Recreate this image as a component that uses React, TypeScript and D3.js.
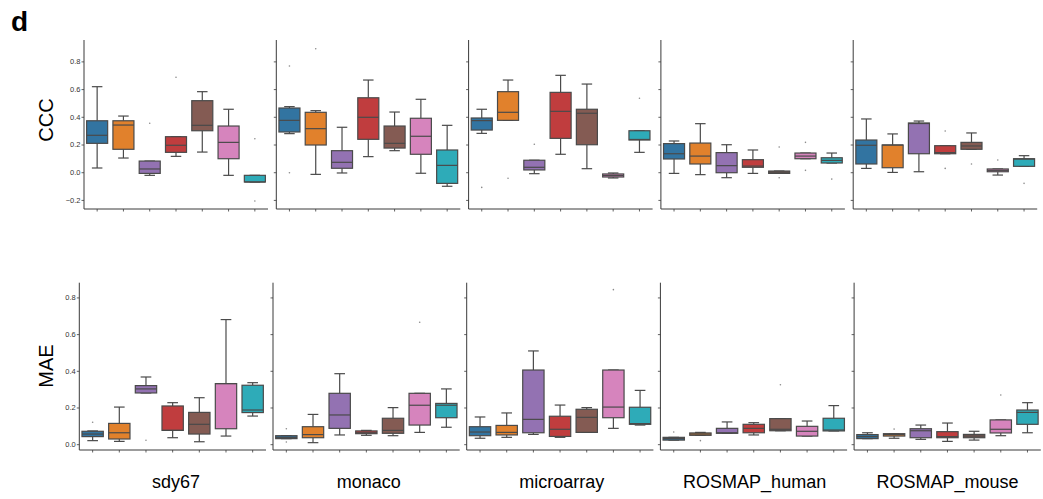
import React from "react";
import * as d3 from "d3";

// Methods compared in every panel (colour order of the boxes)
const methods = ["M1", "M2", "M3", "M4", "M5", "M6", "M7"];
const methodColors = ["#3274A1", "#E1812C", "#9372B2", "#C03D3E", "#845B53", "#D684BD", "#2EABB8"];
const datasets = ["sdy67", "monaco", "microarray", "ROSMAP_human", "ROSMAP_mouse"];

const cccTicks = [-0.2, 0, 0.2, 0.4, 0.6, 0.8];
const maeTicks = [0, 0.2, 0.4, 0.6, 0.8];

// Box statistics per method: [lower whisker, q1, median, q3, upper whisker]
const cccSdy67 = [
  [0.034, 0.212, 0.27, 0.375, 0.621],
  [0.106, 0.169, 0.344, 0.375, 0.409],
  [-0.019, -0.005, 0.027, 0.084, 0.084],
  [0.118, 0.147, 0.198, 0.26, 0.26],
  [0.149, 0.303, 0.342, 0.52, 0.585],
  [-0.019, 0.101, 0.219, 0.337, 0.458],
  [-0.067, -0.067, -0.067, -0.019, -0.019],
];
const cccMonaco = [
  [0.282, 0.294, 0.378, 0.467, 0.477],
  [-0.012, 0.2, 0.318, 0.436, 0.448],
  [-0.002, 0.032, 0.075, 0.159, 0.328],
  [0.116, 0.241, 0.4, 0.541, 0.669],
  [0.159, 0.178, 0.212, 0.337, 0.438],
  [-0.004, 0.133, 0.263, 0.393, 0.53],
  [-0.098, -0.077, 0.053, 0.164, 0.342],
];
const cccMicroarray = [
  [0.284, 0.308, 0.376, 0.395, 0.458],
  [0.378, 0.378, 0.436, 0.585, 0.669],
  [-0.007, 0.02, 0.039, 0.09, 0.09],
  [0.133, 0.248, 0.443, 0.58, 0.703],
  [0.029, 0.202, 0.429, 0.458, 0.64],
  [-0.038, -0.031, -0.02, -0.009, -0.002],
  [0.147, 0.236, 0.24, 0.303, 0.303],
];
const cccRosmapHuman = [
  [-0.005, 0.099, 0.137, 0.21, 0.229],
  [-0.014, 0.063, 0.12, 0.214, 0.354],
  [-0.036, 0.0, 0.051, 0.145, 0.202],
  [-0.005, 0.039, 0.048, 0.094, 0.164],
  [-0.005, -0.005, 0.004, 0.012, 0.012],
  [0.101, 0.101, 0.12, 0.142, 0.142],
  [0.07, 0.07, 0.089, 0.108, 0.142],
];
const cccRosmapMouse = [
  [0.031, 0.063, 0.198, 0.236, 0.388],
  [0.002, 0.036, 0.2, 0.2, 0.28],
  [0.007, 0.137, 0.355, 0.359, 0.373],
  [0.137, 0.137, 0.145, 0.195, 0.195],
  [0.169, 0.169, 0.193, 0.219, 0.287],
  [-0.017, 0.007, 0.017, 0.027, 0.027],
  [0.046, 0.046, 0.098, 0.101, 0.123],
];

// Outlying points per method
const cccOutliers = [
  [[], [], [0.357], [0.689], [], [], [0.245, -0.204]],
  [[0.77, 0.0], [0.895], [], [], [], [], []],
  [[-0.106], [-0.04], [0.205], [], [], [], [0.537]],
  [[], [], [], [], [0.186, -0.036], [0.219, 0.017], [-0.046]],
  [[], [], [], [0.301, 0.031], [0.063], [0.092], [-0.077]],
];

const maeSdy67 = [
  [0.022, 0.044, 0.058, 0.073, 0.075],
  [0.018, 0.031, 0.065, 0.116, 0.205],
  [0.282, 0.282, 0.304, 0.322, 0.369],
  [0.038, 0.078, 0.078, 0.211, 0.229],
  [0.016, 0.058, 0.111, 0.176, 0.256],
  [0.047, 0.087, 0.333, 0.333, 0.682],
  [0.156, 0.175, 0.189, 0.324, 0.338],
];
const maeMonaco = [
  [0.033, 0.033, 0.04, 0.049, 0.049],
  [0.011, 0.038, 0.055, 0.098, 0.165],
  [0.053, 0.089, 0.162, 0.28, 0.387],
  [0.051, 0.06, 0.065, 0.075, 0.078],
  [0.049, 0.062, 0.078, 0.144, 0.202],
  [0.067, 0.107, 0.215, 0.28, 0.28],
  [0.095, 0.147, 0.215, 0.225, 0.304],
];
const maeMicroarray = [
  [0.035, 0.049, 0.069, 0.098, 0.151],
  [0.04, 0.053, 0.067, 0.105, 0.173],
  [0.056, 0.065, 0.138, 0.407, 0.511],
  [0.04, 0.045, 0.084, 0.155, 0.216],
  [0.067, 0.067, 0.149, 0.193, 0.202],
  [0.089, 0.147, 0.205, 0.407, 0.407],
  [0.107, 0.111, 0.115, 0.204, 0.296],
];
const maeRosmapHuman = [
  [0.025, 0.025, 0.033, 0.04, 0.04],
  [0.051, 0.051, 0.058, 0.064, 0.067],
  [0.062, 0.062, 0.065, 0.089, 0.124],
  [0.053, 0.065, 0.089, 0.111, 0.12],
  [0.076, 0.076, 0.084, 0.142, 0.142],
  [0.047, 0.047, 0.073, 0.1, 0.129],
  [0.075, 0.075, 0.08, 0.144, 0.213],
];
const maeRosmapMouse = [
  [0.033, 0.033, 0.044, 0.055, 0.065],
  [0.035, 0.047, 0.055, 0.06, 0.06],
  [0.029, 0.038, 0.076, 0.087, 0.107],
  [0.018, 0.038, 0.044, 0.071, 0.118],
  [0.025, 0.038, 0.047, 0.056, 0.073],
  [0.049, 0.064, 0.084, 0.135, 0.135],
  [0.065, 0.111, 0.176, 0.189, 0.229],
];
const maeOutliers = [
  [[0.122], [], [0.024], [], [], [], []],
  [[0.087, 0.015], [], [], [], [], [0.667], []],
  [[], [], [], [], [], [0.845], []],
  [[0.069], [0.022], [], [], [0.327], [], []],
  [[], [0.085], [], [], [], [0.271], []],
];

type Stats = number[][];

interface RowSpec {
  label: string;
  labelY: number;
  stats: Stats[];
  outliers: number[][][];
  ticks: number[];
  domain: [number, number];
  yTop: number;
  yBottom: number;
  x0: number;
  step: number;
  width: number;
}

const rows: RowSpec[] = [
  {
    label: "CCC",
    labelY: 120,
    stats: [cccSdy67, cccMonaco, cccMicroarray, cccRosmapHuman, cccRosmapMouse],
    outliers: cccOutliers,
    ticks: cccTicks,
    domain: [-0.262, 0.958],
    yTop: 40,
    yBottom: 209,
    x0: 84,
    step: 192.3,
    width: 184,
  },
  {
    label: "MAE",
    labelY: 366,
    stats: [maeSdy67, maeMonaco, maeMicroarray, maeRosmapHuman, maeRosmapMouse],
    outliers: maeOutliers,
    ticks: maeTicks,
    domain: [-0.029, 0.883],
    yTop: 282.7,
    yBottom: 450,
    x0: 79.3,
    step: 193.7,
    width: 186.7,
  },
];

const FONT = "'Liberation Sans', Arial, Helvetica, sans-serif";
const LINE = "#4a4a4a";
const AXIS = "#3a3a3a";

function Panel({ row, di }: { row: RowSpec; di: number }) {
  const left = row.x0 + di * row.step;
  const x = d3.scaleBand<string>().domain(methods).range([left, left + row.width]).padding(0);
  const y = d3.scaleLinear().domain(row.domain).range([row.yBottom, row.yTop]);
  const bw = x.bandwidth() * 0.8;
  const stats = row.stats[di];
  const outs = row.outliers[di];
  return (
    <g>
      {stats.map((s, i) => {
        const [wl, q1, med, q3, wh] = s;
        const cx = (x(methods[i]) as number) + x.bandwidth() / 2;
        const capW = bw / 2;
        return (
          <g key={i}>
            <line x1={cx} x2={cx} y1={y(q3)} y2={y(wh)} stroke={LINE} strokeWidth={1.2} />
            <line x1={cx} x2={cx} y1={y(q1)} y2={y(wl)} stroke={LINE} strokeWidth={1.2} />
            <line x1={cx - capW / 2} x2={cx + capW / 2} y1={y(wh)} y2={y(wh)} stroke={LINE} strokeWidth={1.2} />
            <line x1={cx - capW / 2} x2={cx + capW / 2} y1={y(wl)} y2={y(wl)} stroke={LINE} strokeWidth={1.2} />
            <rect
              x={cx - bw / 2}
              y={y(q3)}
              width={bw}
              height={Math.max(0.5, y(q1) - y(q3))}
              fill={methodColors[i]}
              stroke={LINE}
              strokeWidth={1.2}
            />
            <line x1={cx - bw / 2} x2={cx + bw / 2} y1={y(med)} y2={y(med)} stroke={LINE} strokeWidth={1.2} />
            {outs[i].map((o, k) => (
              <circle key={k} cx={cx} cy={y(o)} r={0.8} fill="#8a8a8a" />
            ))}
          </g>
        );
      })}
      {/* y axis */}
      <line x1={left} x2={left} y1={row.yTop} y2={row.yBottom} stroke={AXIS} strokeWidth={1} />
      {row.ticks.map((t) => (
        <g key={t}>
          <line x1={left - 2.5} x2={left} y1={y(t)} y2={y(t)} stroke={AXIS} strokeWidth={0.8} />
          {di === 0 && (
            <text
              x={left - 3.5}
              y={y(t)}
              dy="0.33em"
              textAnchor="end"
              fontSize={7.5}
              fill="#333"
              fontFamily={FONT}
            >
              {d3.format(".1f")(t).replace("-", "\u2212")}
            </text>
          )}
        </g>
      ))}
      {/* x axis */}
      <line x1={left} x2={left + row.width} y1={row.yBottom} y2={row.yBottom} stroke={AXIS} strokeWidth={1} />
      {methods.map((m) => {
        const cx = (x(m) as number) + x.bandwidth() / 2;
        return <line key={m} x1={cx} x2={cx} y1={row.yBottom} y2={row.yBottom + 2.5} stroke={AXIS} strokeWidth={0.8} />;
      })}
    </g>
  );
}

// Column titles sit under the lower row of panels
const titleX = d3.scaleLinear().domain([0, 4]).range([176, 947.5]);

export default function App() {
  return (
    <div style={{ position: "absolute", left: 0, top: 0 }}>
      <svg width={1043} height={499} style={{ display: "block", background: "#fff" }}>
        <text x={11} y={31} fontSize={28} fontWeight="bold" fontFamily={FONT} fill="#000">
          d
        </text>
        {rows.map((row) => (
          <g key={row.label}>
            <text
              transform={`translate(53, ${row.labelY}) rotate(-90)`}
              textAnchor="middle"
              fontSize={20}
              fontFamily={FONT}
              fill="#000"
            >
              {row.label}
            </text>
            {datasets.map((d, di) => (
              <Panel key={d} row={row} di={di} />
            ))}
          </g>
        ))}
        {datasets.map((d, di) => (
          <text
            key={d}
            x={titleX(di)}
            y={488}
            textAnchor="middle"
            fontSize={18}
            fontFamily={FONT}
            fill="#000"
          >
            {d}
          </text>
        ))}
      </svg>
    </div>
  );
}
